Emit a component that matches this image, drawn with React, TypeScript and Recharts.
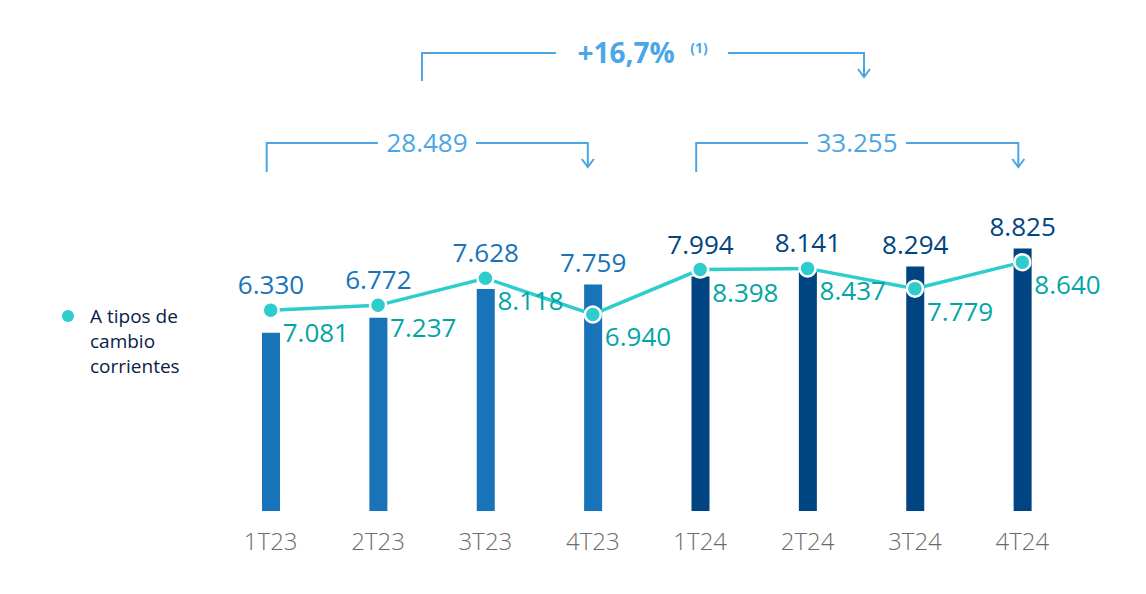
import { ComposedChart, Bar, Line, XAxis, YAxis, Cell, LabelList } from "recharts";

const QUARTERS = ["1T23", "2T23", "3T23", "4T23", "1T24", "2T24", "3T24", "4T24"];
const BAR_VALUES = [6330, 6772, 7628, 7759, 7994, 8141, 8294, 8825];
const LINE_VALUES = [7081, 7237, 8118, 6940, 8398, 8437, 7779, 8640];
const YEAR_TOTALS = ["28.489", "33.255"];
const GROWTH = "+16,7%";
const LINE_NAME = "A tipos de cambio corrientes";

const data = QUARTERS.map((q, i) => ({ name: q, bar: BAR_VALUES[i], line: LINE_VALUES[i] }));

const W = 1146;
const H = 594;
const M = { top: 200, right: 70, bottom: 33, left: 217 };
const PLOT_H = H - M.top - M.bottom - 50;
const BAND = (W - M.left - M.right) / QUARTERS.length;
const catX = (i: number) => M.left + BAND * (i + 0.5);

const BAR_DOMAIN = [1055, 10259];
const LINE_DOMAIN = [555, 10659];

const FONT = "'Open Sans', sans-serif";
const C23 = "#1973B8";
const C24 = "#004481";
const AQUA = "#2DCCCD";
const TEAL = "#02A5A5";
const LIGHT = "#4BA6E6";

const fmt = (v: number) => {
  const s = String(Math.round(v));
  return s.length > 3 ? s.slice(0, -3) + "." + s.slice(-3) : s;
};
const is23 = (i: number) => QUARTERS[i].endsWith("23");

const lineY = (v: number, bottom: number) =>
  bottom - ((v - LINE_DOMAIN[0]) / (LINE_DOMAIN[1] - LINE_DOMAIN[0])) * PLOT_H;

const BarLabel = (p: any) => {
  const vb = p.viewBox ?? p;
  const x = vb.x + vb.width / 2;
  const bottom = vb.y + vb.height;
  const py = lineY(LINE_VALUES[p.index], bottom);
  const y = Math.min(vb.y - 22, py - 26);
  return (
    <text x={x} y={y} textAnchor="middle" dominantBaseline="central" fontFamily={FONT}
      fontSize={26} fill={is23(p.index) ? C23 : C24}>
      {fmt(BAR_VALUES[p.index])}
    </text>
  );
};

const LineLabel = (p: any) => {
  const vb = p.viewBox ?? p;
  return (
    <text x={vb.x + 12} y={vb.y + 22} textAnchor="start" dominantBaseline="central" fontFamily={FONT}
      fontSize={26} fill={TEAL}>
      {fmt(LINE_VALUES[p.index])}
    </text>
  );
};

const Bracket = ({ x1, x2, y, yLeft, yArrow, cx, gap, children }: any) => (
  <g stroke={LIGHT} strokeWidth={2} fill="none">
    <polyline points={`${x1},${yLeft} ${x1},${y} ${cx - gap},${y}`} />
    <polyline points={`${cx + gap},${y} ${x2},${y} ${x2},${yArrow}`} />
    <polyline points={`${x2 - 6},${yArrow - 8} ${x2},${yArrow} ${x2 + 6},${yArrow - 8}`} />
    {children}
  </g>
);

export default function App() {
  return (
    <div style={{ position: "absolute", left: 0, top: 0, width: W, height: H, background: "#fff" }}>
      <ComposedChart width={W} height={H} data={data} margin={M}>
        <XAxis dataKey="name" axisLine={false} tickLine={false} height={50} tickMargin={16}
          tick={{ fontFamily: FONT, fontSize: 24, fill: "#6b6b6b", fontWeight: 300 }} />
        <YAxis yAxisId="bar" hide domain={BAR_DOMAIN} allowDataOverflow />
        <YAxis yAxisId="line" hide domain={LINE_DOMAIN} allowDataOverflow />
        <Bar yAxisId="bar" dataKey="bar" barSize={18} isAnimationActive={false}>
          {data.map((_, i) => <Cell key={i} fill={is23(i) ? C23 : C24} />)}
          <LabelList content={BarLabel} />
        </Bar>
        <Line yAxisId="line" dataKey="line" stroke={AQUA} strokeWidth={3.5} isAnimationActive={false}
          dot={{ r: 8, fill: AQUA, stroke: "#fff", strokeWidth: 2.5 }} activeDot={false}>
          <LabelList content={LineLabel} />
        </Line>
      </ComposedChart>
      <div style={{ position: "absolute", left: 62, top: 304, display: "flex", alignItems: "flex-start",
        fontFamily: FONT, fontSize: 19, color: "#072146" }}>
        <span style={{ width: 12, height: 12, borderRadius: 6, background: AQUA, marginTop: 6, marginRight: 16 }} />
        <div style={{ width: 110, lineHeight: "25px" }}>{LINE_NAME}</div>
      </div>
      <svg width={W} height={H} style={{ position: "absolute", left: 0, top: 0, pointerEvents: "none" }}>
        <Bracket x1={422} x2={864} y={53} yLeft={81} yArrow={77} cx={642} gap={86}>
          <text x={626} y={52} textAnchor="middle" dominantBaseline="central" stroke="none" fill={LIGHT}
            fontFamily={FONT} fontSize={28} fontWeight={700}>{GROWTH}</text>
          <text x={699} y={47} textAnchor="middle" dominantBaseline="central" stroke="none" fill={LIGHT}
            fontFamily={FONT} fontSize={14} fontWeight={700}>(1)</text>
        </Bracket>
        <Bracket x1={catX(0) - 4} x2={catX(3) - 5} y={143} yLeft={172} yArrow={167} cx={427} gap={49}>
          <text x={427} y={142} textAnchor="middle" dominantBaseline="central" stroke="none" fill={LIGHT}
            fontFamily={FONT} fontSize={26}>{YEAR_TOTALS[0]}</text>
        </Bracket>
        <Bracket x1={catX(4) - 4} x2={catX(7) - 4} y={143} yLeft={172} yArrow={167} cx={857} gap={49}>
          <text x={857} y={142} textAnchor="middle" dominantBaseline="central" stroke="none" fill={LIGHT}
            fontFamily={FONT} fontSize={26}>{YEAR_TOTALS[1]}</text>
        </Bracket>
      </svg>
    </div>
  );
}
